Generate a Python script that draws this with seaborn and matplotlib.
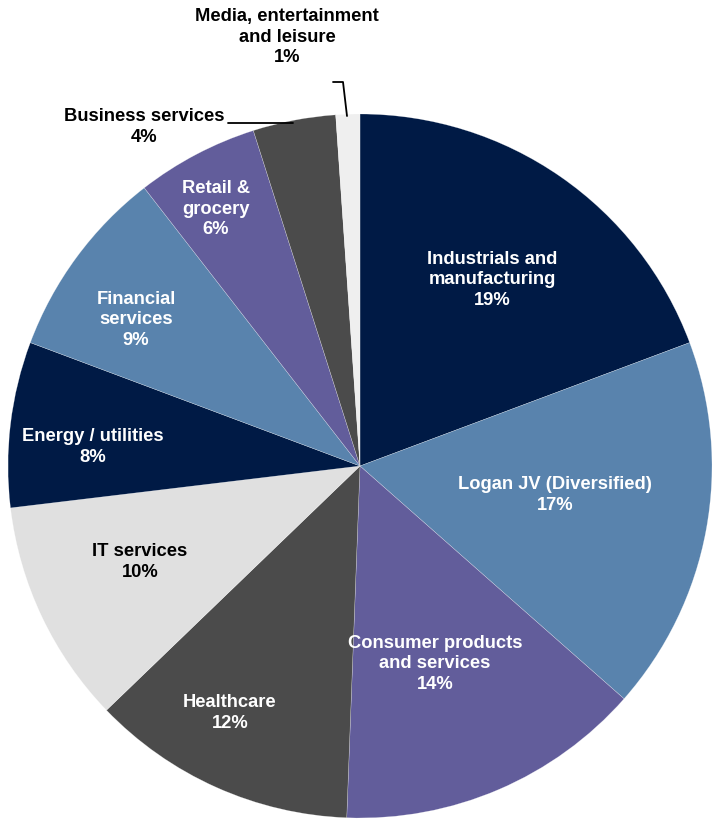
import matplotlib
matplotlib.use("Agg")
import matplotlib.pyplot as plt
import seaborn as sns
import numpy as np

# ---- data ----
categories = [
    "Industrials and\nmanufacturing",
    "Logan JV (Diversified)",
    "Consumer products\nand services",
    "Healthcare",
    "IT services",
    "Energy / utilities",
    "Financial\nservices",
    "Retail &\ngrocery",
    "Business services",
    "Media, entertainment\nand leisure",
]
shares = [19.3, 17.2, 14.1, 12.2, 10.3, 7.6, 8.8, 5.6, 3.8, 1.1]
pct_labels = ["19%", "17%", "14%", "12%", "10%", "8%", "9%", "6%", "4%", "1%"]
colors = ["#001A45", "#5983AD", "#625D9B", "#4B4B4B", "#E0E0E0",
          "#001A45", "#5983AD", "#625D9B", "#4B4B4B", "#EFEFEF"]
text_colors = ["white", "white", "white", "white", "black",
               "white", "white", "white", "black", "black"]

# label anchor positions (pixel coords in the 714x819 image)
label_px = [(492, 280), (555, 495), (435, 664), (230, 713), (140, 562),
            (93, 447), (136, 320), (216, 209), (144, 127), (287, 37)]

sns.set_theme(style="white")
plt.rcParams["font.family"] = ["Liberation Sans", "DejaVu Sans"]

W, H, DPI = 714, 819, 100
fig = plt.figure(figsize=(W / DPI, H / DPI), dpi=DPI)
ax = fig.add_axes([0, 0, 1, 1])

CX, CY, R = 360, 466, 352


def to_data(px, py):
    return (px - CX) / R, (CY - py) / R


ax.pie(shares, colors=colors, startangle=90, counterclock=False,
       radius=1.0, center=(0, 0),
       wedgeprops=dict(edgecolor="#FFFFFF80", linewidth=0.3))

for cat, pct, (px, py), tc in zip(categories, pct_labels, label_px, text_colors):
    x, y = to_data(px, py)
    ax.text(x, y, f"{cat}\n{pct}", ha="center", va="center", color=tc,
            fontsize=13.2, fontweight="bold", linespacing=1.3)

# leader lines
bx = [to_data(228, 123), to_data(293, 123)]
ax.plot([p[0] for p in bx], [p[1] for p in bx], color="black", lw=1.3)
mx = [to_data(333, 82), to_data(343, 82), to_data(347, 116)]
ax.plot([p[0] for p in mx], [p[1] for p in mx], color="black", lw=1.3)

ax.set_xlim((0 - CX) / R, (W - CX) / R)
ax.set_ylim((CY - H) / R, CY / R)
ax.set_aspect("equal")
ax.axis("off")

fig.savefig("out.png", dpi=DPI, facecolor="white")
